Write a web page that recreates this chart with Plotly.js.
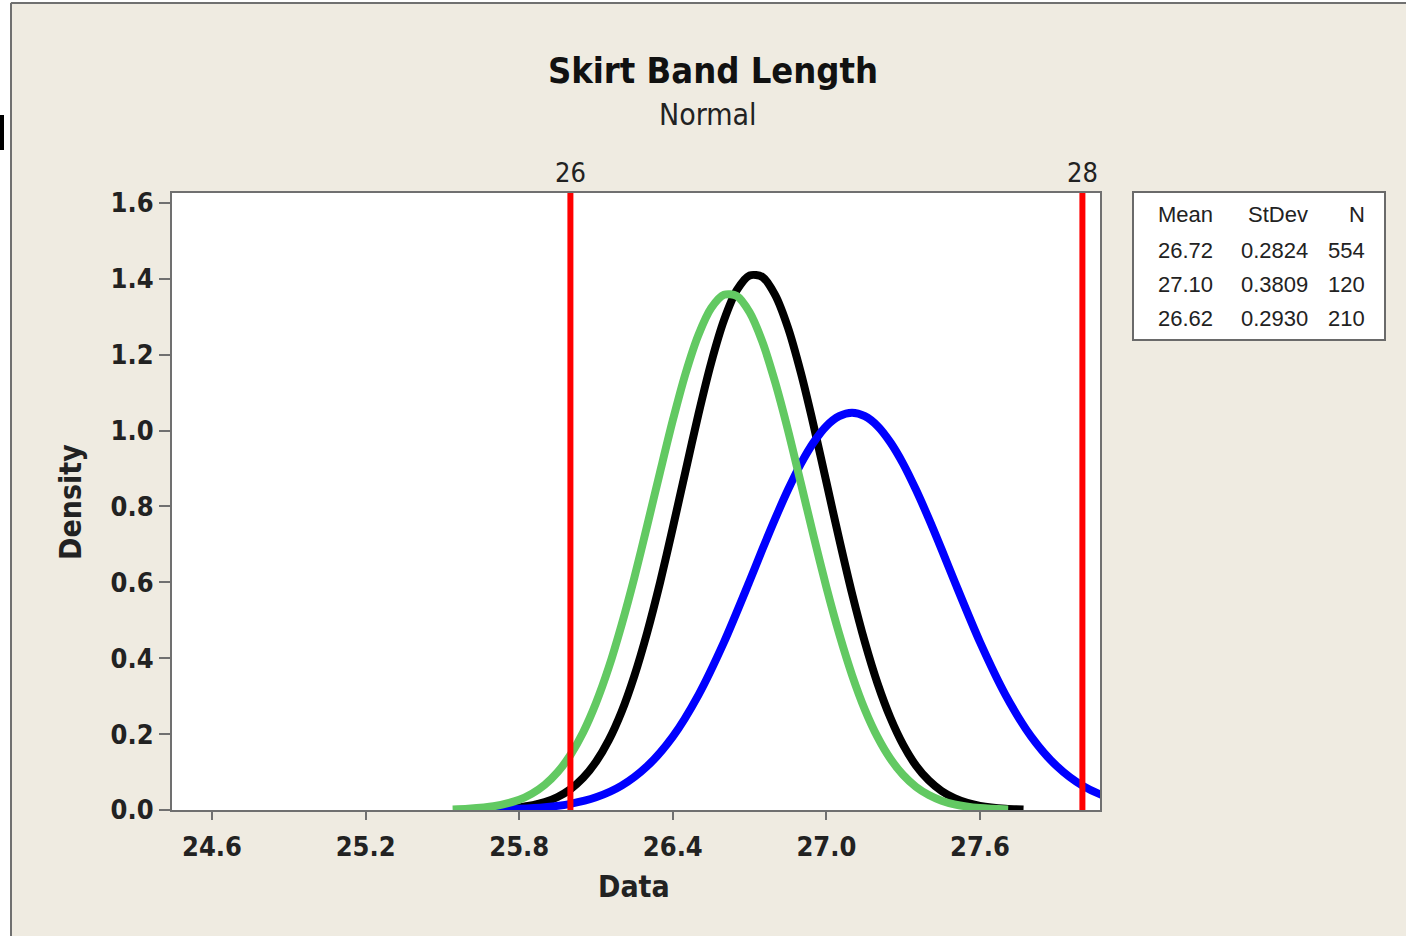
<!DOCTYPE html>
<html>
<head>
<meta charset="utf-8">
<script src="https://cdn.plot.ly/plotly-3.0.1.min.js"></script>
<style>html,body{margin:0;padding:0;background:#fff;} #chart{width:1406px;height:936px;}</style>
</head>
<body>
<div id="chart"></div>
<script>
// ---- Data ----
const specLimits = [26, 28];
const specLabels = ['26', '28'];

const blackX = [25.675, 25.8, 25.9, 25.95, 26.0, 26.05, 26.1, 26.15, 26.2, 26.25, 26.3, 26.35, 26.4, 26.45, 26.5, 26.55, 26.6, 26.65, 26.7, 26.75, 26.8, 26.85, 26.9, 26.95, 27.0, 27.05, 27.1, 27.15, 27.2, 27.25, 27.3, 27.35, 27.4, 27.45, 27.5, 27.55, 27.6, 27.7, 27.77];
const blackY = [0.0015, 0.0070, 0.0209, 0.0343, 0.0548, 0.0847, 0.127, 0.184, 0.259, 0.354, 0.468, 0.599, 0.744, 0.894, 1.043, 1.179, 1.291, 1.370, 1.409, 1.405, 1.357, 1.271, 1.153, 1.014, 0.864, 0.714, 0.571, 0.443, 0.333, 0.243, 0.1715, 0.117, 0.0778, 0.0500, 0.0312, 0.0188, 0.0110, 0.0034, 0.0014];

const blueX = [25.69, 25.8, 25.9, 26.0, 26.1, 26.2, 26.3, 26.4, 26.5, 26.6, 26.7, 26.75, 26.8, 26.85, 26.9, 26.95, 27.0, 27.05, 27.1, 27.15, 27.2, 27.25, 27.3, 27.35, 27.4, 27.45, 27.5, 27.6, 27.7, 27.8, 27.9, 28.0, 28.1, 28.2];
const blueY = [0.0011, 0.0031, 0.0073, 0.0162, 0.0334, 0.0642, 0.1155, 0.1935, 0.303, 0.4425, 0.6035, 0.687, 0.768, 0.844, 0.9125, 0.969, 1.012, 1.038, 1.047, 1.038, 1.012, 0.969, 0.9125, 0.844, 0.768, 0.687, 0.6035, 0.4425, 0.303, 0.1935, 0.1155, 0.0642, 0.0334, 0.0162];

const greenX = [25.54, 25.6, 25.7, 25.8, 25.85, 25.9, 25.95, 26.0, 26.05, 26.1, 26.15, 26.2, 26.25, 26.3, 26.35, 26.4, 26.45, 26.5, 26.55, 26.6, 26.65, 26.7, 26.75, 26.8, 26.85, 26.9, 26.95, 27.0, 27.05, 27.1, 27.15, 27.2, 27.25, 27.3, 27.35, 27.4, 27.45, 27.5, 27.6, 27.71];
const greenY = [0.0015, 0.0032, 0.0098, 0.0271, 0.0431, 0.0665, 0.0996, 0.145, 0.205, 0.282, 0.376, 0.488, 0.613, 0.750, 0.890, 1.027, 1.151, 1.252, 1.323, 1.358, 1.355, 1.312, 1.234, 1.127, 1.001, 0.862, 0.722, 0.587, 0.464, 0.356, 0.265, 0.192, 0.135, 0.0922, 0.0611, 0.0394, 0.0246, 0.0150, 0.0051, 0.0014];

const tableHeaders = ['Mean', 'StDev', 'N'];
const meanVals = ['26.72', '27.10', '26.62'];
const stdevVals = ['0.2824', '0.3809', '0.2930'];
const nVals = ['554', '120', '210'];

const xTickVals = [24.6, 25.2, 25.8, 26.4, 27.0, 27.6];
const yTickVals = [0, 0.2, 0.4, 0.6, 0.8, 1.0, 1.2, 1.4, 1.6];

// ---- Layout helpers (pixel -> paper) ----
const L = 172, R = 1100, T = 193, B = 810;
const px = v => (v - L) / (R - L);
const py = v => (B - v) / (B - T);

const COND = 'DejaVu Sans Condensed';
const traces = [];
specLimits.forEach(v => {
  traces.push({x: [v, v], y: [0, 1.7], xaxis: 'x2', yaxis: 'y', mode: 'lines',
    line: {color: '#ff0000', width: 6}, hoverinfo: 'skip', showlegend: false});
});
traces.push({x: blackX, y: blackY, mode: 'lines', line: {color: '#000000', width: 8, shape: 'spline', smoothing: 0.8}, showlegend: false});
traces.push({x: blueX, y: blueY, mode: 'lines', line: {color: '#0000ff', width: 8, shape: 'spline', smoothing: 0.8}, showlegend: false});
traces.push({x: greenX, y: greenY, mode: 'lines', line: {color: '#62c962', width: 8, shape: 'spline', smoothing: 0.8}, showlegend: false});

const xr = [24.6 - 40/256, 24.6 + 888/256];
const yr = [0, 1.6 + 10/380];

const annotations = [];
annotations.push({text: 'Normal', xref: 'paper', yref: 'paper', x: px(708), y: py(114), showarrow: false,
  font: {family: COND, size: 30, color: '#222'}, xanchor: 'center', yanchor: 'middle'});
annotations.push({text: 'Data', xref: 'paper', yref: 'paper', x: px(634), y: py(886), showarrow: false,
  font: {family: COND, size: 30, color: '#222', weight: 'bold'}, xanchor: 'center', yanchor: 'middle'});
annotations.push({text: 'Density', xref: 'paper', yref: 'paper', x: px(70), y: py(502), showarrow: false, textangle: -90,
  font: {family: COND, size: 30, color: '#222', weight: 'bold'}, xanchor: 'center', yanchor: 'middle'});

const colRight = [1215, 1310, 1367];
const rowY = [215, 250, 284, 318];
const columns = [meanVals, stdevVals, nVals];
tableHeaders.forEach((h, c) => {
  annotations.push({text: h, xref: 'paper', yref: 'paper', x: px(colRight[c]), y: py(rowY[0]), showarrow: false,
    font: {family: 'Liberation Sans', size: 22, color: '#222'}, xanchor: 'right', yanchor: 'middle'});
  columns[c].forEach((v, r) => {
    annotations.push({text: v, xref: 'paper', yref: 'paper', x: px(colRight[c]), y: py(rowY[r + 1]), showarrow: false,
      font: {family: 'Liberation Sans', size: 22, color: '#222'}, xanchor: 'right', yanchor: 'middle'});
  });
});

const shapes = [
  {type: 'rect', xref: 'paper', yref: 'paper', x0: px(-10), x1: px(10), y0: py(950), y1: py(-10), fillcolor: '#ffffff', line: {width: 0}, layer: 'above'},
  {type: 'rect', xref: 'paper', yref: 'paper', x0: px(-10), x1: px(1420), y0: py(2), y1: py(-10), fillcolor: '#ffffff', line: {width: 0}, layer: 'above'},
  {type: 'line', xref: 'paper', yref: 'paper', x0: px(11), x1: px(11), y0: py(950), y1: py(3), line: {color: '#707070', width: 2}, layer: 'above'},
  {type: 'line', xref: 'paper', yref: 'paper', x0: px(11), x1: px(1420), y0: py(3), y1: py(3), line: {color: '#707070', width: 2}, layer: 'above'},
  {type: 'rect', xref: 'paper', yref: 'paper', x0: px(-5), x1: px(4), y0: py(150), y1: py(115), fillcolor: '#000000', line: {width: 0}, layer: 'above'},
  {type: 'rect', xref: 'paper', yref: 'paper', x0: px(1133), x1: px(1385), y0: py(340), y1: py(192), fillcolor: '#ffffff', line: {color: '#6a6a6a', width: 2}, layer: 'above'}
];

const layout = {
  width: 1406, height: 936,
  margin: {l: L, r: 1406 - R, t: T, b: 936 - B, pad: 0},
  paper_bgcolor: '#efebe1',
  plot_bgcolor: '#ffffff',
  showlegend: false,
  title: {text: 'Skirt Band Length', xref: 'container', yref: 'container', x: 713/1406, y: 1 - 70/936,
    xanchor: 'center', yanchor: 'middle', font: {family: COND, size: 36, weight: 'bold', color: '#111'}},
  xaxis: {range: xr, tickvals: xTickVals, ticktext: xTickVals.map(v => v.toFixed(1)), ticks: 'outside', ticklen: 8, tickwidth: 2,
    tickcolor: '#707070', showline: true, linecolor: '#707070', linewidth: 2, mirror: false, showgrid: false, zeroline: false,
    ticklabelstandoff: 4,
    tickfont: {family: COND, size: 27, weight: 'bold', color: '#222'}},
  xaxis2: {range: xr, overlaying: 'x', side: 'top', tickvals: specLimits, ticktext: specLabels, ticks: '', showgrid: false,
    ticklabelstandoff: -2,
    zeroline: false, showline: true, linecolor: '#707070', linewidth: 2, tickfont: {family: COND, size: 27, color: '#222'}},
  yaxis: {range: yr, tickvals: yTickVals, ticktext: yTickVals.map(v => v.toFixed(1)), ticks: 'outside', ticklen: 11, tickwidth: 2,
    tickcolor: '#707070', showline: true, linecolor: '#707070', linewidth: 2, mirror: true, showgrid: false, zeroline: false,
    tickfont: {family: COND, size: 27, weight: 'bold', color: '#222'}},
  annotations: annotations,
  shapes: shapes
};

Plotly.newPlot('chart', traces, layout, {staticPlot: true, displayModeBar: false});
</script>
</body>
</html>
